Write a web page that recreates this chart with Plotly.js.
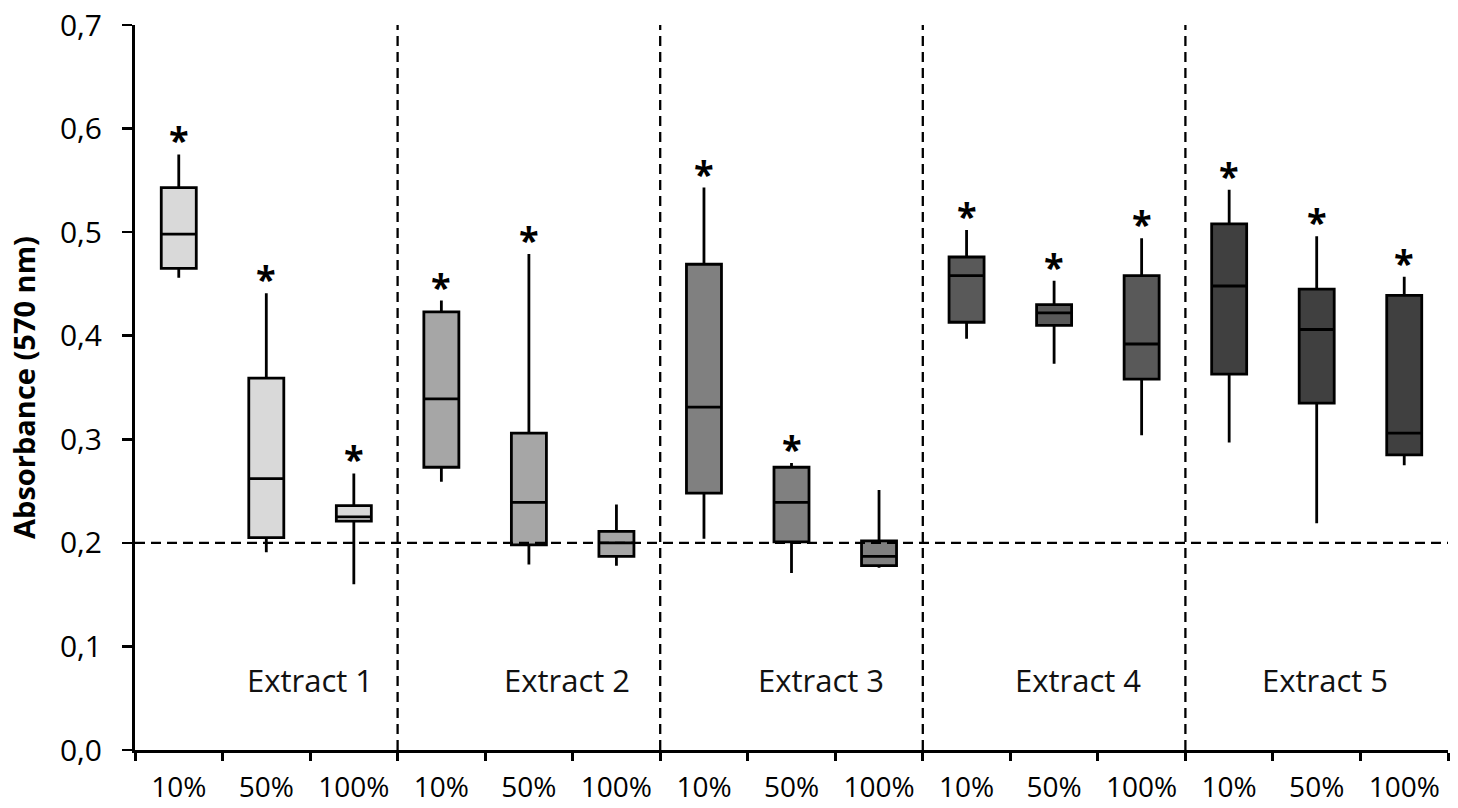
<!DOCTYPE html>
<html>
<head>
<meta charset="utf-8">
<script src="https://cdn.plot.ly/plotly-3.0.1.min.js"></script>
<style>html,body{margin:0;padding:0;background:#fff;}#chart{width:1458px;height:808px;}</style>
</head>
<body>
<div id="chart"></div>
<script>
// ---- data ----
const extracts = ["Extract 1", "Extract 2", "Extract 3", "Extract 4", "Extract 5"];
const concentrations = ["10%", "50%", "100%"];
const lowerFence = [0.456, 0.191, 0.160,  0.259, 0.179, 0.178,  0.204, 0.171, 0.176,  0.397, 0.373, 0.304,  0.297, 0.219, 0.275];
const q1Values   = [0.465, 0.205, 0.221,  0.273, 0.198, 0.187,  0.248, 0.201, 0.178,  0.413, 0.410, 0.358,  0.363, 0.335, 0.285];
const medians    = [0.498, 0.262, 0.225,  0.339, 0.239, 0.200,  0.331, 0.239, 0.187,  0.458, 0.422, 0.392,  0.448, 0.406, 0.306];
const q3Values   = [0.543, 0.359, 0.236,  0.423, 0.306, 0.211,  0.469, 0.273, 0.202,  0.476, 0.430, 0.458,  0.508, 0.445, 0.439];
const upperFence = [0.575, 0.441, 0.267,  0.434, 0.479, 0.237,  0.543, 0.277, 0.251,  0.502, 0.453, 0.494,  0.541, 0.496, 0.457];
const significant = [true, true, true,  true, true, false,  true, true, false,  true, true, true,  true, true, true];
const threshold = 0.2;
const yTickVals = [0, 0.1, 0.2, 0.3, 0.4, 0.5, 0.6, 0.7];

// ---- styles ----
const fills = ["#d9d9d9", "#a6a6a6", "#808080", "#595959", "#404040"];
const labelX = [1.5, 4.43, 7.34, 10.27, 13.09];
const FONT = "Open Sans, Lato, sans-serif";

const nC = concentrations.length;
const traces = extracts.map((ex, g) => {
  const idx = concentrations.map((_, k) => g * nC + k);
  return {
    type: "box",
    name: ex,
    x: idx,
    q1: idx.map(i => q1Values[i]),
    median: idx.map(i => medians[i]),
    q3: idx.map(i => q3Values[i]),
    lowerfence: idx.map(i => lowerFence[i]),
    upperfence: idx.map(i => upperFence[i]),
    width: 0.4,
    whiskerwidth: 0,
    fillcolor: fills[g],
    line: { color: "#000", width: 2.8 },
    boxpoints: false,
    hoverinfo: "skip",
    showlegend: false
  };
});

const nTot = extracts.length * nC;
const centers = Array.from({ length: nTot }, (_, i) => i);
const tickText = centers.map(i => concentrations[i % nC]);
const bounds = Array.from({ length: nTot + 1 }, (_, i) => i - 0.5);

const shapes = [];
for (let g = 1; g < extracts.length; g++) {
  shapes.push({ type: "line", xref: "x", yref: "paper", x0: g * nC - 0.5, x1: g * nC - 0.5, y0: 0, y1: 1,
    line: { color: "#000", width: 2.3, dash: "10px,6px" }, layer: "below" });
}
shapes.push({ type: "line", xref: "paper", yref: "y", x0: 0, x1: 1, y0: threshold, y1: threshold,
  line: { color: "#000", width: 2.3, dash: "10px,6px" }, layer: "above" });

const annotations = [];
extracts.forEach((ex, g) => {
  annotations.push({ x: labelX[g], y: 0.068, xref: "x", yref: "y", text: ex, showarrow: false,
    font: { family: FONT, size: 31, color: "#111" }, xanchor: "center", yanchor: "middle" });
});
centers.forEach(i => {
  if (significant[i]) {
    annotations.push({ x: i, y: upperFence[i], xref: "x", yref: "y", text: "*", showarrow: false,
      font: { family: FONT, size: 36, color: "#000", weight: 700 }, xanchor: "center", yanchor: "bottom", yshift: -12 });
  }
});

const layout = {
  width: 1458, height: 808,
  margin: { l: 135, r: 10, t: 25, b: 58 },
  paper_bgcolor: "#fff", plot_bgcolor: "#fff",
  separators: ",.",
  boxmode: "overlay",
  showlegend: false,
  font: { family: FONT, color: "#000" },
  xaxis: {
    range: [-0.5, nTot - 0.5],
    tickmode: "array", tickvals: centers, ticktext: tickText,
    ticks: "", showgrid: false, zeroline: false,
    showline: true, linecolor: "#000", linewidth: 3,
    tickfont: { family: FONT, size: 28, color: "#000" },
    ticklabelstandoff: 10,
    minor: { tickmode: "array", tickvals: bounds, ticks: "outside", ticklen: 8, tickwidth: 3, tickcolor: "#000", showgrid: false },
    fixedrange: true
  },
  yaxis: {
    range: [0, 0.7],
    tickmode: "array", tickvals: yTickVals, tickformat: ".1f",
    ticks: "outside", ticklen: 10, tickwidth: 2.5, tickcolor: "#000",
    showgrid: false, zeroline: false,
    showline: true, linecolor: "#000", linewidth: 3,
    tickfont: { family: FONT, size: 30, color: "#000" },
    ticklabelstandoff: 14,
    title: { text: "Absorbance (570 nm)", font: { family: FONT, size: 29, color: "#000", weight: 700 }, standoff: 16 },
    fixedrange: true
  },
  shapes: shapes,
  annotations: annotations
};

Plotly.newPlot("chart", traces, layout, { displayModeBar: false, staticPlot: true });
</script>
</body>
</html>
